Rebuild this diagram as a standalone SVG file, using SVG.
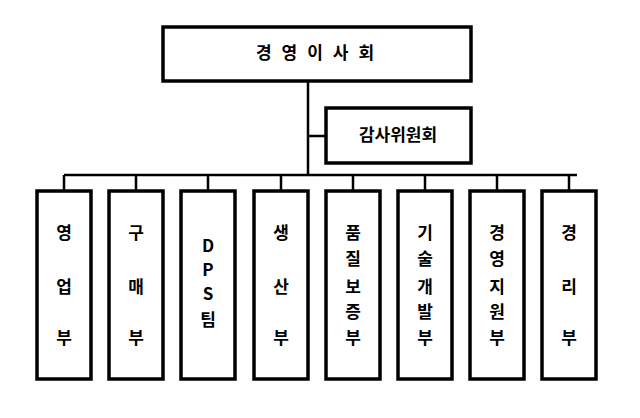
<svg xmlns="http://www.w3.org/2000/svg" width="640" height="418" viewBox="0 0 640 418">
<style>
rect{fill:#fff;stroke:#000;stroke-width:3.5}
text{font-family:"Noto Sans CJK KR","Liberation Sans",sans-serif;font-weight:bold;font-size:17px;text-anchor:middle;fill:#000}
.c path{fill:none;stroke:#000;stroke-width:2.5}
</style>
<rect width="640" height="418" style="fill:#fff;stroke:none"/>
<g class="c">
<path d="M308 81V175M308 136H326M64 175H577M64 175V191M136 175V191M208 175V191M281 175V191M353 175V191M425 175V191M497 175V191M569 175V191"/>
</g>
<g id="board"><rect x="163" y="27" width="308" height="54"/><text x="320" y="59" letter-spacing="10">경영이사회</text></g>
<g id="audit"><rect x="326" y="108" width="145" height="55"/><text x="398" y="141">감사위원회</text></g>
<g id="n1"><rect x="37" y="191" width="54" height="188"/><text x="64" y="239">영</text><text x="64" y="293">업</text><text x="64" y="344">부</text></g>
<g id="n2"><rect x="109" y="191" width="54" height="188"/><text x="136" y="239">구</text><text x="136" y="293">매</text><text x="136" y="344">부</text></g>
<g id="n3"><rect x="181" y="191" width="54" height="188"/><text x="208" y="252">D</text><text x="208" y="276">P</text><text x="208" y="300">S</text><text x="208" y="326">팀</text></g>
<g id="n4"><rect x="254" y="191" width="54" height="188"/><text x="281" y="239">생</text><text x="281" y="293">산</text><text x="281" y="344">부</text></g>
<g id="n5"><rect x="326" y="191" width="54" height="188"/><text x="353" y="239">품</text><text x="353" y="265">질</text><text x="353" y="293">보</text><text x="353" y="318">증</text><text x="353" y="344">부</text></g>
<g id="n6"><rect x="398" y="191" width="54" height="188"/><text x="425" y="239">기</text><text x="425" y="265">술</text><text x="425" y="293">개</text><text x="425" y="318">발</text><text x="425" y="344">부</text></g>
<g id="n7"><rect x="470" y="191" width="54" height="188"/><text x="497" y="239">경</text><text x="497" y="265">영</text><text x="497" y="293">지</text><text x="497" y="318">원</text><text x="497" y="344">부</text></g>
<g id="n8"><rect x="542" y="191" width="54" height="188"/><text x="569" y="239">경</text><text x="569" y="293">리</text><text x="569" y="344">부</text></g>
</svg>
